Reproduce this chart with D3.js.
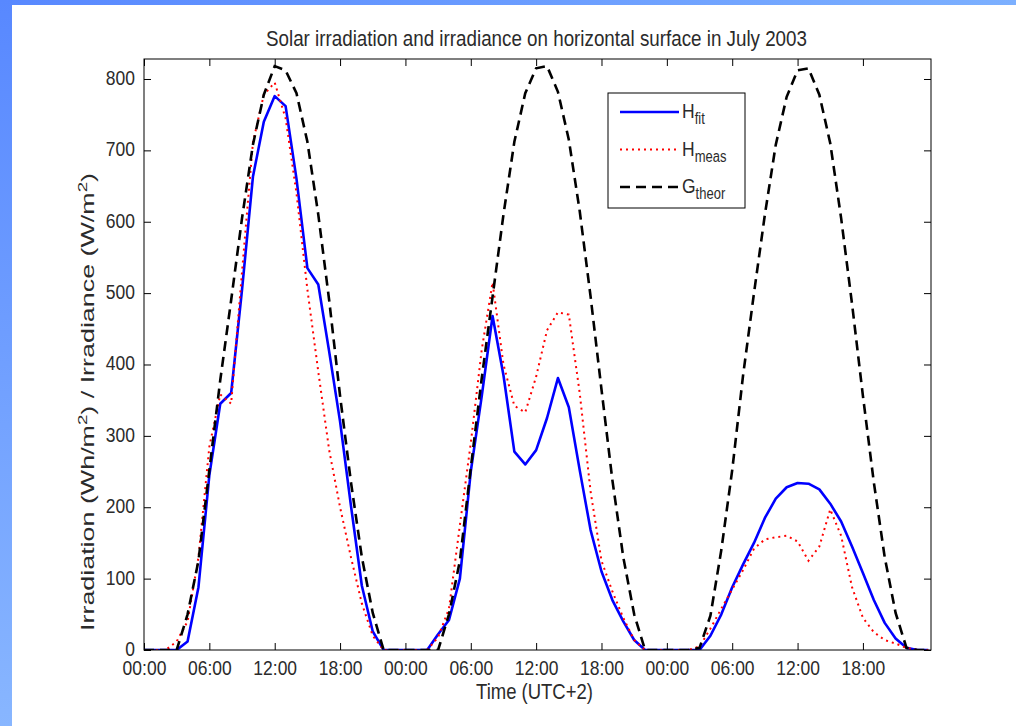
<!DOCTYPE html>
<html>
<head>
<meta charset="utf-8">
<script src="https://cdn.jsdelivr.net/npm/d3@7"></script>
<style>
  html, body { margin: 0; padding: 0; background: #fff; }
  svg { display: block; font-family: "Liberation Sans", Arial, Helvetica, sans-serif; }
</style>
</head>
<body>
<svg id="chart" width="1016" height="726"></svg>
<script>
// hourly samples, 3 days of July 2003 (hours from 00:00 of day 1)
const hours = [
  0, 1, 2, 3, 4, 5, 6, 7, 8, 9, 10, 11, 12, 13, 14, 15, 16, 17, 18, 19, 20, 21, 22, 23,
  24, 25, 26, 27, 28, 29, 30, 31, 32, 33, 34, 35, 36, 37, 38, 39, 40, 41, 42, 43, 44, 45, 46, 47,
  48, 49, 50, 51, 52, 53, 54, 55, 56, 57, 58, 59, 60, 61, 62, 63, 64, 65, 66, 67, 68, 69, 70, 71, 72
];

const hFit = [
  0, 0, 0, 0, 12, 88, 245, 345, 360, 505, 663, 740, 776, 762, 660, 535, 512, 418, 320, 202, 90, 26, 0, 0,
  0, 0, 0, 22, 42, 100, 250, 355, 468, 385, 278, 260, 280, 325, 381, 340, 252, 168, 110, 70, 40, 14, 0, 0,
  0, 0, 0, 0, 20, 50, 88, 120, 150, 185, 212, 228, 234, 233, 225, 205, 180, 145, 108, 70, 38, 16, 3, 0, 0
];

const hMeas = [
  0, 0, 0, 12, 40, 130, 285, 358, 345, 530, 711, 778, 795, 745, 640, 505, 390, 280, 200, 130, 65, 20, 0, 0,
  0, 0, 0, 18, 58, 175, 290, 420, 515, 400, 342, 333, 383, 448, 473, 470, 360, 222, 125, 82, 45, 14, 0, 0,
  0, 0, 0, 5, 30, 58, 85, 112, 142, 155, 158, 160, 152, 125, 145, 197, 160, 88, 45, 25, 14, 9, 3, 0, 0
];

const gTheor = [
  0, 0, 0, 0, 50, 125, 252, 378, 490, 605, 708, 778, 818, 812, 780, 712, 610, 490, 356, 235, 130, 52, 0, 0,
  0, 0, 0, 0, 50, 125, 255, 380, 495, 610, 712, 780, 815, 818, 782, 715, 615, 495, 365, 238, 130, 50, 0, 0,
  0, 0, 0, 3, 48, 140, 252, 385, 500, 610, 708, 775, 812, 815, 778, 710, 605, 485, 356, 235, 130, 52, 3, 0, 0
];

const xTickHours = [0, 6, 12, 18, 24, 30, 36, 42, 48, 54, 60, 66];
const xTickLabels = ["00:00", "06:00", "12:00", "18:00", "00:00", "06:00", "12:00", "18:00", "00:00", "06:00", "12:00", "18:00"];
const yTicks = [0, 100, 200, 300, 400, 500, 600, 700, 800];

const seriesNames = ["fit", "meas", "theor"];

function init_irradiation_chart() {
    const svg = d3.select("#chart"),
        margin = { top: 59, right: 85, bottom: 76, left: 144 },
        width = +svg.attr("width") - margin.left - margin.right,
        height = +svg.attr("height") - margin.top - margin.bottom;

    const stretch = 1.2; // the picture is a bit taller than wide, text too
    const textColor = "#2b2b2b";

    // blue slide frame
    const defs = svg.append("defs");
    const gv = defs.append("linearGradient").attr("id", "frameV")
        .attr("x1", 0).attr("y1", 0).attr("x2", 0).attr("y2", 1);
    gv.append("stop").attr("offset", 0).attr("stop-color", "#5888ff");
    gv.append("stop").attr("offset", 1).attr("stop-color", "#88b6ff");
    const gh = defs.append("linearGradient").attr("id", "frameH")
        .attr("x1", 0).attr("y1", 0).attr("x2", 1).attr("y2", 0);
    gh.append("stop").attr("offset", 0).attr("stop-color", "#5888ff");
    gh.append("stop").attr("offset", 1).attr("stop-color", "#7cb0ff");
    defs.append("clipPath").attr("id", "plotClip")
        .append("rect").attr("width", width).attr("height", height);

    svg.append("rect").attr("x", 0).attr("y", 0).attr("width", 1016).attr("height", 5).attr("fill", "url(#frameH)");
    svg.append("rect").attr("x", 0).attr("y", 0).attr("width", 12).attr("height", 726).attr("fill", "url(#frameV)");

    const chart = svg.append("g").attr("transform", `translate(${margin.left},${margin.top})`);

    const x = d3.scaleLinear().domain([0, 72.25]).range([0, width]);
    const y = d3.scaleLinear().domain([0, 828]).range([height, 0]);

    // axes, ticks pointing inward
    const xAxisGroup = chart.append("g").attr("transform", `translate(0,${height})`)
        .call(d3.axisBottom(x).tickValues(xTickHours).tickSize(-7).tickSizeOuter(0)
            .tickFormat((d, i) => xTickLabels[i]));
    chart.append("g")
        .call(d3.axisTop(x).tickValues(xTickHours).tickSize(-7).tickSizeOuter(0).tickFormat(""));
    const yAxisGroup = chart.append("g")
        .call(d3.axisLeft(y).tickValues(yTicks).tickSize(-7).tickSizeOuter(0));
    chart.append("g").attr("transform", `translate(${width},0)`)
        .call(d3.axisRight(y).tickValues(yTicks).tickSize(-7).tickSizeOuter(0).tickFormat(""));

    chart.selectAll(".domain").remove();
    chart.selectAll(".tick line").attr("stroke", "#000");

    xAxisGroup.selectAll("text")
        .attr("dy", null)
        .attr("y", 25.5 / stretch)
        .attr("transform", `scale(1,${stretch})`)
        .style("font-size", "17.5px")
        .attr("fill", textColor);

    yAxisGroup.selectAll("text")
        .attr("dy", null)
        .attr("x", -9)
        .attr("y", 5.5 / stretch)
        .attr("transform", `scale(1,${stretch})`)
        .style("font-size", "17.5px")
        .attr("fill", textColor);

    // curves
    const line = d3.line()
        .x((d, i) => x(hours[i]))
        .y(d => y(d));

    const plot = chart.append("g").attr("clip-path", "url(#plotClip)");

    plot.append("path").datum(hFit)
        .attr("class", "line-fit")
        .attr("fill", "none")
        .attr("stroke", "#0000ff")
        .attr("stroke-width", 2.6)
        .attr("stroke-linejoin", "round")
        .attr("d", line);

    plot.append("path").datum(hMeas)
        .attr("class", "line-meas")
        .attr("fill", "none")
        .attr("stroke", "#ff0000")
        .attr("stroke-width", 2)
        .attr("stroke-dasharray", "2,4")
        .attr("d", line);

    plot.append("path").datum(gTheor)
        .attr("class", "line-theor")
        .attr("fill", "none")
        .attr("stroke", "#000")
        .attr("stroke-width", 2.6)
        .attr("stroke-dasharray", "10,6")
        .attr("d", line);

    // box
    chart.append("rect")
        .attr("width", width).attr("height", height)
        .attr("fill", "none").attr("stroke", "#000").attr("stroke-width", 1);

    // title and labels
    svg.append("text")
        .attr("transform", `translate(${margin.left + width / 2 - 1},46) scale(1,${stretch})`)
        .attr("text-anchor", "middle")
        .style("font-size", "18.8px")
        .attr("fill", textColor)
        .text("Solar irradiation and irradiance on horizontal surface in July 2003");

    svg.append("text")
        .attr("transform", `translate(${margin.left + width / 2 - 3},698.5) scale(1,${stretch})`)
        .attr("text-anchor", "middle")
        .style("font-size", "18.5px")
        .attr("fill", textColor)
        .text("Time (UTC+2)");

    const yLabel = svg.append("text")
        .attr("text-anchor", "middle")
        .style("font-size", "18px")
        .attr("fill", textColor);
    yLabel.append("tspan").text("Irradiation (Wh/m");
    yLabel.append("tspan").attr("dy", -7).style("font-size", "12.5px").text("2");
    yLabel.append("tspan").attr("dy", 7).text(") / Irradiance (W/m");
    yLabel.append("tspan").attr("dy", -7).style("font-size", "12.5px").text("2");
    yLabel.append("tspan").attr("dy", 7).text(")");
    // the label runs from about y=632 up to y=172 in the picture
    const labelStretch = 458 / yLabel.node().getComputedTextLength();
    yLabel.attr("transform", `translate(94,402) scale(1,${labelStretch}) rotate(-90)`);

    // legend
    const legend = svg.append("g").attr("transform", "translate(608,93)");
    legend.append("rect")
        .attr("width", 137).attr("height", 115)
        .attr("fill", "#fff").attr("stroke", "#000").attr("stroke-width", 1);

    const legendItems = [
        { main: "H", sub: seriesNames[0], color: "#0000ff", dash: null, w: 2.6 },
        { main: "H", sub: seriesNames[1], color: "#ff0000", dash: "2,4", w: 2 },
        { main: "G", sub: seriesNames[2], color: "#000", dash: "10,6", w: 2.6 }
    ];

    legendItems.forEach((d, i) => {
        const cy = 19 + i * 37.5;
        legend.append("line")
            .attr("x1", 12).attr("x2", 71).attr("y1", cy).attr("y2", cy)
            .attr("stroke", d.color).attr("stroke-width", d.w)
            .attr("stroke-dasharray", d.dash);
        const t = legend.append("text")
            .attr("transform", `translate(74,${cy + 6}) scale(1,${stretch})`)
            .style("font-size", "17.5px")
            .attr("fill", textColor);
        t.append("tspan").text(d.main);
        t.append("tspan").attr("dy", 5).style("font-size", "13px").text(d.sub);
    });
}

init_irradiation_chart();
</script>
</body>
</html>
